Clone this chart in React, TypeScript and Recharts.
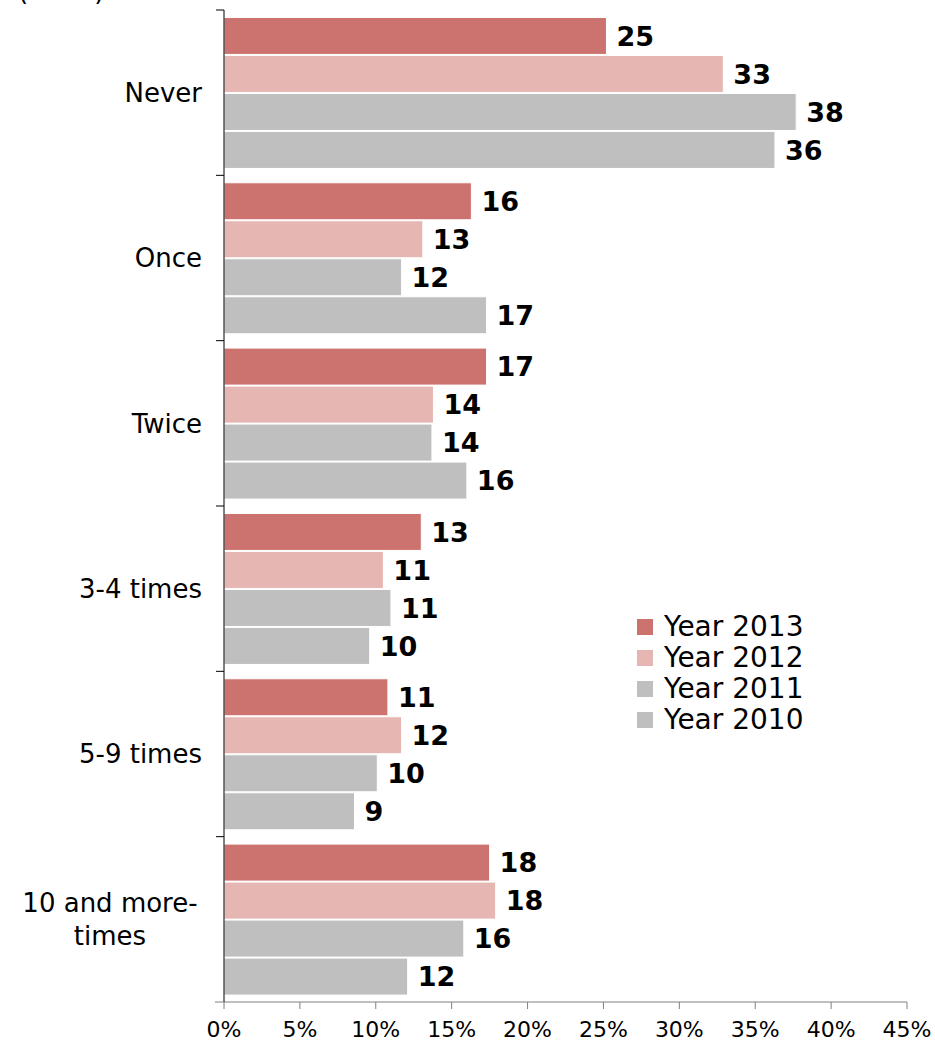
import { BarChart, Bar, XAxis, YAxis, Legend, LabelList } from "recharts";

const categories = ["Never", "Once", "Twice", "3-4 times", "5-9 times", "10 and more-\ntimes"];
const year2013 = [25.2, 16.3, 17.3, 13.0, 10.8, 17.5];
const year2012 = [32.9, 13.1, 13.8, 10.5, 11.7, 17.9];
const year2011 = [37.7, 11.7, 13.7, 11.0, 10.1, 15.8];
const year2010 = [36.3, 17.3, 16.0, 9.6, 8.6, 12.1];
const xTicks = [0, 5, 10, 15, 20, 25, 30, 35, 40, 45];

const series = [
  { key: "y2013", name: "Year 2013", color: "#CD736F" },
  { key: "y2012", name: "Year 2012", color: "#E6B6B2" },
  { key: "y2011", name: "Year 2011", color: "#BFBFBF" },
  { key: "y2010", name: "Year 2010", color: "#BFBFBF" },
];

const data = categories.map((name, i) => ({
  name,
  y2013: year2013[i],
  y2012: year2012[i],
  y2011: year2011[i],
  y2010: year2010[i],
}));

const FONT = "'DejaVu Sans', Verdana, sans-serif";

const CategoryTick = (props: any) => {
  const { x, y, payload, index } = props;
  const half = payload && payload.offset ? payload.offset : 992 / 12;
  const lines = String(payload.value).split("\n");
  return (
    <g>
      <line x1={x - 8} y1={y - half} x2={x} y2={y - half} stroke="#000" />
      {index === categories.length - 1 && (
        <line x1={x - 9} y1={y + half} x2={x} y2={y + half} stroke="#808080" />
      )}
      {lines.length === 1 ? (
        <text x={x - 22} y={y} dy="0.36em" textAnchor="end" fontSize={26} fill="#000" fontFamily={FONT}>
          {lines[0]}
        </text>
      ) : (
        <text x={x - 114} y={y} textAnchor="middle" fontSize={26} fill="#000" fontFamily={FONT}>
          {lines.map((l, i) => (
            <tspan key={i} x={x - 114} dy={i === 0 ? `${0.36 - ((lines.length - 1) * 33) / 2 / 26}em` : 33}>
              {l}
            </tspan>
          ))}
        </text>
      )}
    </g>
  );
};

const renderLegend = () => (
  <div style={{ fontFamily: FONT, fontSize: 28, lineHeight: "31px", color: "#000" }}>
    {series.map((s) => (
      <div key={s.key} style={{ display: "flex", alignItems: "center" }}>
        <span style={{ width: 16, height: 16, background: s.color, display: "inline-block", marginRight: 11 }} />
        {s.name}
      </div>
    ))}
  </div>
);

const App = () => {
  return (
    <div style={{ position: "absolute", left: 0, top: 0, width: 935, height: 1043, background: "#fff", overflow: "hidden" }}>
      <div style={{ position: "absolute", left: 18, top: -24, fontFamily: FONT, fontSize: 26, color: "#000" }}>
        (2010)
      </div>
      <BarChart
        width={935}
        height={1043}
        data={data}
        layout="vertical"
        margin={{ top: 10, right: 28, bottom: 0, left: 0 }}
        barCategoryGap="4.5%"
        barGap={1}
      >
        <XAxis
          type="number"
          domain={[0, 45]}
          ticks={xTicks}
          interval={0}
          tickFormatter={(v) => `${v}%`}
          height={41}
          tickSize={7}
          tickMargin={12}
          axisLine={{ stroke: "#808080" }}
          tickLine={{ stroke: "#808080" }}
          tick={{ fontSize: 22, fill: "#000", fontFamily: FONT }}
        />
        <YAxis
          type="category"
          dataKey="name"
          width={224}
          tickSize={0}
          tickMargin={0}
          tickLine={false}
          axisLine={{ stroke: "#000" }}
          interval={0}
          tick={<CategoryTick />}
        />
        <Legend
          layout="vertical"
          align="center"
          verticalAlign="middle"
          content={renderLegend}
          wrapperStyle={{ position: "absolute", left: 637, top: 611, width: 220 }}
        />
        {series.map((s) => (
          <Bar
            key={s.key}
            dataKey={s.key}
            name={s.name}
            fill={s.color}
            stroke="#fff"
            strokeWidth={1}
            isAnimationActive={false}
          >
            <LabelList
              dataKey={s.key}
              position="right"
              offset={10}
              formatter={(v: any) => Math.round(Number(v))}
              style={{ fontSize: 27, fontWeight: "bold", fill: "#000", fontFamily: FONT }}
            />
          </Bar>
        ))}
      </BarChart>
    </div>
  );
};

export default App;
